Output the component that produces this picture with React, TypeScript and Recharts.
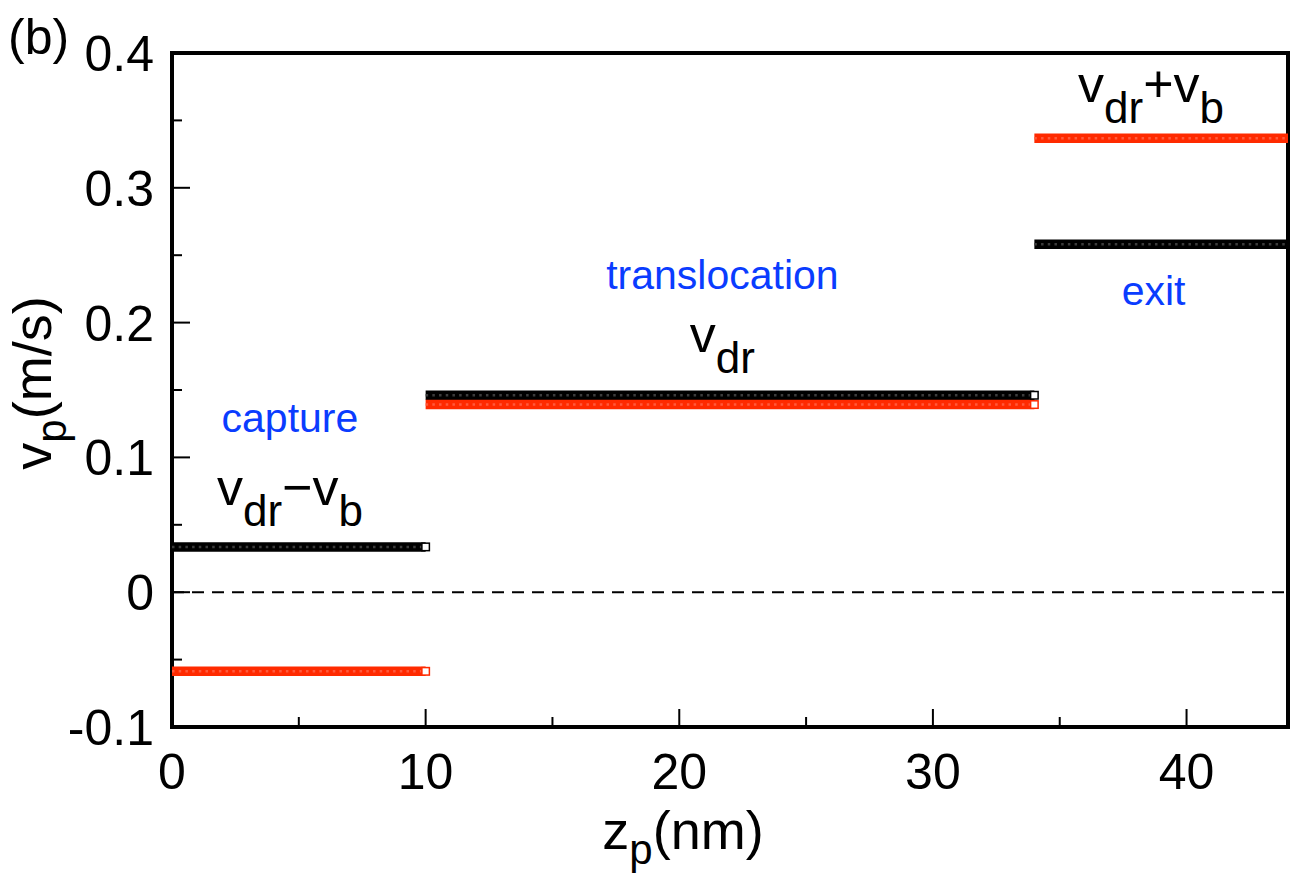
import React from 'react';
import {
  LineChart,
  Line,
  XAxis,
  YAxis,
  ReferenceLine,
  ReferenceArea,
  ReferenceDot,
} from 'recharts';

// Pore position ranges (nm) for the capture, translocation and exit stages
const SEGMENT_START = [0, 10, 34];
const SEGMENT_END = [10, 34, 44];
// Particle velocity (m/s) in each stage
const BLACK_VELOCITY = [0.0336, 0.1461, 0.2582];
const RED_VELOCITY = [-0.0587, 0.1392, 0.3368];
// Whether a stage finishes with an open square marker
const END_MARKER = [true, true, false];

const Z_TICKS = [0, 5, 10, 15, 20, 25, 30, 35, 40];
const V_TICKS = [-0.1, -0.05, 0, 0.05, 0.1, 0.15, 0.2, 0.25, 0.3, 0.35, 0.4];

// Stage names (blue)
const STAGE_NAMES = ['capture', 'translocation', 'exit'];
const STAGE_NAME_Z = [4.65, 21.7, 38.7];
const STAGE_NAME_V = [0.119, 0.225, 0.213];

// Velocity expressions (black): main symbol / subscript pairs
const EXPR_PARTS = [
  [['v', 'dr'], ['\u2212v', 'b']],
  [['v', 'dr']],
  [['v', 'dr'], ['+v', 'b']],
];
const EXPR_Z = [4.65, 21.7, 38.6];
const EXPR_V = [0.065, 0.178, 0.364];

const BLACK = '#000000';
const RED = '#ff2a00';
const BLUE = '#0a3cff';
const FONT = '"Liberation Sans", Arial, Helvetica, sans-serif';

type Series = { key: string; color: string; texture: string; marker: boolean; data: { z: number; v: number }[] };

const series: Series[] = [];
SEGMENT_START.forEach((start, i) => {
  series.push({
    key: `black-${i}`,
    color: BLACK,
    texture: '#3c3c3c',
    marker: END_MARKER[i],
    data: [
      { z: start, v: BLACK_VELOCITY[i] },
      { z: SEGMENT_END[i], v: BLACK_VELOCITY[i] },
    ],
  });
  series.push({
    key: `red-${i}`,
    color: RED,
    texture: '#ff5a3c',
    marker: END_MARKER[i],
    data: [
      { z: start, v: RED_VELOCITY[i] },
      { z: SEGMENT_END[i], v: RED_VELOCITY[i] },
    ],
  });
});

const isMajor = (v: number, step: number) => Math.abs(v / step - Math.round(v / step)) < 1e-6;

const XTick = (props: any) => {
  const { x, y, payload } = props;
  const major = isMajor(payload.value, 10);
  return (
    <g>
      <line x1={x} x2={x} y1={y} y2={y - (major ? 18 : 10)} stroke="#000" strokeWidth={2} />
      {major && (
        <text x={x} y={y + 62} textAnchor="middle" fontSize={50} fontFamily={FONT} fill="#000">
          {payload.value}
        </text>
      )}
    </g>
  );
};

const YTick = (props: any) => {
  const { x, y, payload } = props;
  const major = isMajor(payload.value, 0.1);
  const label = Math.abs(payload.value) < 1e-9 ? '0' : payload.value.toFixed(1);
  return (
    <g>
      <line x1={x} x2={x + (major ? 18 : 10)} y1={y} y2={y} stroke="#000" strokeWidth={2} />
      {major && (
        <text x={x - 18} y={y + 18} textAnchor="end" fontSize={50} fontFamily={FONT} fill="#000">
          {label}
        </text>
      )}
    </g>
  );
};

const endSquare = (color: string, marker: boolean) => (props: any) => {
  const { cx, cy, index } = props;
  if (!marker || index !== 1) return <g key={`d-${index}`} />;
  return (
    <rect
      key={`d-${index}`}
      x={cx - 3.75}
      y={cy - 3.75}
      width={7.5}
      height={7.5}
      fill="#ffffff"
      stroke={color}
      strokeWidth={1.5}
    />
  );
};

const stageName = (text: string) => (props: any) => (
  <text x={props.cx} y={props.cy} textAnchor="middle" fontSize={41} fontFamily={FONT} fill={BLUE}>
    {text}
  </text>
);

const expression = (parts: string[][]) => (props: any) => (
  <text x={props.cx} y={props.cy} textAnchor="middle" fontSize={52} fontFamily={FONT} fill="#000">
    {parts.map(([main, sub], j) => (
      <React.Fragment key={j}>
        <tspan dy={j === 0 ? 0 : -21}>{main}</tspan>
        <tspan fontSize={44} dy={21}>
          {sub}
        </tspan>
      </React.Fragment>
    ))}
  </text>
);

export default function App() {
  return (
    <div style={{ position: 'absolute', left: 0, top: 0, width: 1303, height: 882, background: '#fff' }}>
      <LineChart width={1303} height={882} margin={{ top: 53, right: 15, bottom: 0, left: 0 }}>
        <XAxis
          dataKey="z"
          type="number"
          domain={[0, 44]}
          ticks={Z_TICKS}
          interval={0}
          tickSize={0}
          tickMargin={0}
          tickLine={false}
          axisLine={false}
          height={155}
          tick={<XTick />}
          allowDataOverflow
        />
        <YAxis
          type="number"
          domain={[-0.1, 0.4]}
          ticks={V_TICKS}
          interval={0}
          tickSize={0}
          tickMargin={0}
          tickLine={false}
          axisLine={false}
          width={172}
          tick={<YTick />}
          allowDataOverflow
        />
        <ReferenceLine y={0} stroke="#000" strokeWidth={2} strokeDasharray="12 8" />
        {series.map((s) => (
          <Line
            key={s.key}
            data={s.data}
            dataKey="v"
            type="linear"
            stroke={s.color}
            strokeWidth={9.5}
            strokeLinecap="butt"
            dot={false}
            activeDot={false}
            isAnimationActive={false}
          />
        ))}
        {series.map((s) => (
          <Line
            key={`${s.key}-texture`}
            data={s.data}
            dataKey="v"
            type="linear"
            stroke={s.texture}
            strokeWidth={2.5}
            strokeDasharray="2.5 4.2"
            strokeLinecap="butt"
            dot={false}
            activeDot={false}
            isAnimationActive={false}
          />
        ))}
        {series.map((s) => (
          <Line
            key={`${s.key}-marker`}
            data={s.data}
            dataKey="v"
            type="linear"
            stroke="none"
            dot={endSquare(s.color, s.marker)}
            activeDot={false}
            isAnimationActive={false}
          />
        ))}
        <ReferenceArea
          x1={0}
          x2={44}
          y1={-0.1}
          y2={0.4}
          fill="none"
          fillOpacity={0}
          stroke="#000"
          strokeWidth={4}
        />
        {STAGE_NAMES.map((name, i) => (
          <ReferenceDot key={name} x={STAGE_NAME_Z[i]} y={STAGE_NAME_V[i]} r={0} shape={stageName(name)} />
        ))}
        {EXPR_PARTS.map((parts, i) => (
          <ReferenceDot key={`expr-${i}`} x={EXPR_Z[i]} y={EXPR_V[i]} r={0} shape={expression(parts)} />
        ))}
      </LineChart>
      <div
        style={{
          position: 'absolute',
          left: 8,
          top: 9,
          fontSize: 50,
          fontFamily: FONT,
          lineHeight: '56px',
          color: '#000',
        }}
      >
        (b)
      </div>
      <div
        style={{
          position: 'absolute',
          left: 683,
          top: 790,
          transform: 'translateX(-50%)',
          fontSize: 54,
          fontFamily: FONT,
          lineHeight: '80px',
          color: '#000',
          whiteSpace: 'nowrap',
        }}
      >
        z<sub style={{ fontSize: 42, verticalAlign: '-15px', lineHeight: 0 }}>p</sub>(nm)
      </div>
      <div
        style={{
          position: 'absolute',
          left: 32,
          top: 383,
          transform: 'translate(-50%, -50%) rotate(-90deg)',
          fontSize: 54,
          fontFamily: FONT,
          lineHeight: '60px',
          color: '#000',
          whiteSpace: 'nowrap',
        }}
      >
        v<sub style={{ fontSize: 42, verticalAlign: '-15px', lineHeight: 0 }}>p</sub>(m/s)
      </div>
    </div>
  );
}
